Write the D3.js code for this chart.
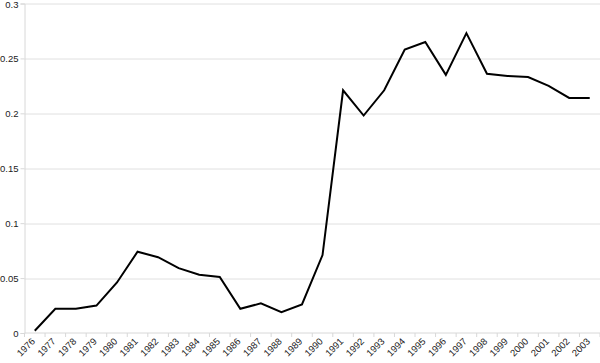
<!DOCTYPE html>
<html>
<head>
<meta charset="utf-8">
<script src="https://cdn.jsdelivr.net/npm/d3@7"></script>
<style>
    body { margin: 0; background: #fff; }
    .chart text { font-family: "Liberation Sans", Arial, sans-serif; font-size: 9.5px; fill: #222; }
</style>
</head>
<body>
<svg class="chart"></svg>
<script>
var years = ["1976", "1977", "1978", "1979", "1980", "1981", "1982", "1983", "1984", "1985",
    "1986", "1987", "1988", "1989", "1990", "1991", "1992", "1993", "1994", "1995",
    "1996", "1997", "1998", "1999", "2000", "2001", "2002", "2003"];
var values = [0.002, 0.022, 0.022, 0.025, 0.046, 0.074, 0.069, 0.059, 0.053, 0.051,
    0.022, 0.027, 0.019, 0.026, 0.071, 0.221, 0.198, 0.221, 0.258, 0.265,
    0.235, 0.273, 0.236, 0.234, 0.233, 0.225, 0.214, 0.214];
var yTicks = [0, 0.05, 0.1, 0.15, 0.2, 0.25, 0.3];

var margin = {
    top: 3.5,
    right: 0,
    bottom: 30,
    left: 24.5
};

var width = 600 - margin.left - margin.right;
var height = 363 - margin.top - margin.bottom;

var svg = d3.select(".chart")
    .attr("width", 600)
    .attr("height", 363);

var chart = svg.append("g")
    .attr("transform", "translate(" + margin.left + "," + margin.top + ")");

var x = d3.scaleBand()
    .domain(years)
    .range([0, width]);

var y = d3.scaleLinear()
    .domain([0, 0.3])
    .range([height, 0]);

// gridlines
chart.append("g")
    .selectAll("line")
    .data(yTicks.slice(1))
    .enter().append("line")
    .attr("x1", 0)
    .attr("x2", width)
    .attr("y1", function(d) { return Math.round(y(d)) + 0.5; })
    .attr("y2", function(d) { return Math.round(y(d)) + 0.5; })
    .attr("stroke", "#e0e0e0");

// y axis
var yAxis = chart.append("g")
    .call(d3.axisLeft(y).tickValues(yTicks).tickSize(4).tickPadding(2)
        .tickFormat(function(d) { return String(+d.toFixed(2)); }));
yAxis.select(".domain").attr("stroke", "#d8d8d8");
yAxis.selectAll(".tick line").attr("stroke", "#d8d8d8");
// keep the top label inside the picture
yAxis.selectAll(".tick text").filter(function(d) { return d === 0.3; }).attr("dy", "0.42em");

// x axis, ticks between categories
var xAxis = chart.append("g")
    .attr("transform", "translate(0," + height + ")");
xAxis.append("line")
    .attr("x1", 0)
    .attr("x2", width)
    .attr("stroke", "#d8d8d8");
xAxis.selectAll(".xtick")
    .data(years.concat(["end"]))
    .enter().append("line")
    .attr("class", "xtick")
    .attr("x1", function(d, i) { return i * x.step(); })
    .attr("x2", function(d, i) { return i * x.step(); })
    .attr("y1", 0)
    .attr("y2", 4)
    .attr("stroke", "#d8d8d8");
xAxis.selectAll(".xlabel")
    .data(years)
    .enter().append("text")
    .attr("class", "xlabel")
    .attr("text-anchor", "end")
    .attr("transform", function(d) {
        return "translate(" + (x(d) + x.bandwidth() / 2 + 1) + ",9) rotate(-45)";
    })
    .text(function(d) { return d; });

var line = d3.line()
    .x(function(d, i) { return x(years[i]) + x.bandwidth() / 2; })
    .y(function(d) { return y(d); });

chart.append("path")
    .datum(values)
    .attr("fill", "none")
    .attr("stroke", "#000")
    .attr("stroke-width", 2)
    .attr("stroke-linejoin", "miter")
    .attr("d", line);
</script>
</body>
</html>
